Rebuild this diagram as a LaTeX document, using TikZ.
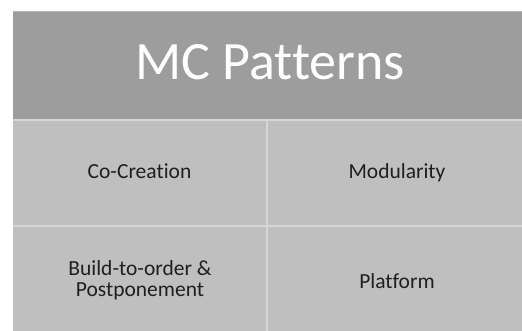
\documentclass[tikz,border=0pt]{standalone}
\usepackage{fontspec}
\setmainfont[Ligatures={NoCommon}]{Carlito}
\definecolor{hdr}{HTML}{9D9D9D}
\definecolor{cellc}{HTML}{BFBFBF}
\definecolor{sep}{HTML}{D6D6D6}
\definecolor{topb}{HTML}{B4B4B4}
\begin{document}
\begin{tikzpicture}[x=1pt,y=-1pt,
  celltext/.style={font=\fontsize{21.5}{21}\selectfont, text=black!88, align=center, anchor=base},
  sepline/.style={draw=sep, line width=2pt}]
\useasboundingbox (0,0) rectangle (522,331);
\fill[white] (0,0) rectangle (522,331);
% header
\fill[hdr] (13,11) rectangle (530,119);
\draw[topb, line width=1pt] (13,11.5) -- (530,11.5);
% cells
\fill[cellc] (13,119) rectangle (530,340);
% separators
\coordinate (hl) at (13,120);
\coordinate (hr) at (530,120);
\coordinate (ml) at (13,226);
\coordinate (mr) at (530,226);
\coordinate (vt) at (267,120);
\coordinate (vb) at (267,340);
\draw[sepline] (hl) -- (hr);
\draw[sepline] (ml) -- (mr);
\draw[sepline] (vt) -- (vb);
% texts
\node[font=\fontsize{54}{60}\selectfont, text=white, anchor=base] (title) at (270,80) {MC Patterns};
\node[celltext] (cc) at (139.5,178.5) {Co-Creation};
\node[celltext] (mod) at (397,179) {Modularity};
\node[celltext] (bto) at (140,296.5) {Build-to-order \&\\Postponement};
\node[celltext] (plat) at (397,288.5) {Platform};
\end{tikzpicture}
\end{document}
